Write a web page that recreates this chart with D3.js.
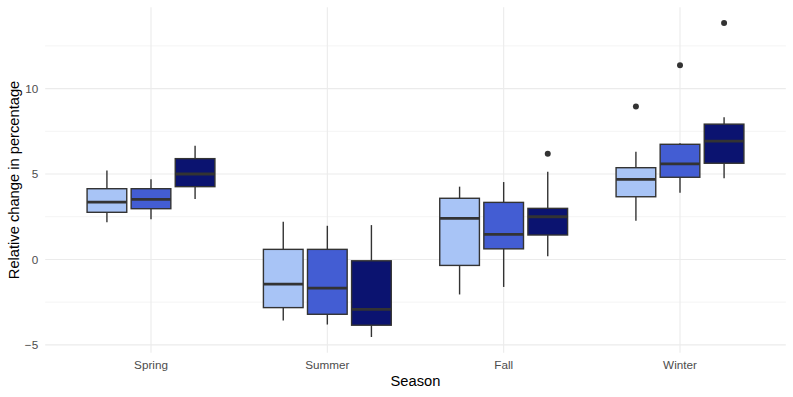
<!DOCTYPE html>
<html>
<head>
  <meta charset="utf-8">
  <style>
    body { margin: 0; background: #fff; }
    text { font-family: "Liberation Sans", Arial, sans-serif; }
  </style>
</head>
<body>
  <svg width="793" height="397"></svg>
  <script src="https://d3js.org/d3.v7.min.js"></script>
  <script>
  // data: box statistics per season [lower whisker, q1, median, q3, upper whisker]
  const seasons = ["Spring", "Summer", "Fall", "Winter"];
  const groups = ["g1", "g2", "g3"];
  const colors = ["#a8c4f6", "#435dd3", "#0b1370"];

  const statsG1 = [
    [2.17, 2.76, 3.36, 4.14, 5.20],
    [-3.58, -2.82, -1.45, 0.59, 2.21],
    [-2.05, -0.35, 2.40, 3.58, 4.26],
    [2.26, 3.67, 4.69, 5.37, 6.31]
  ];
  const statsG2 = [
    [2.35, 2.97, 3.52, 4.14, 4.69],
    [-3.81, -3.21, -1.68, 0.59, 1.97],
    [-1.61, 0.62, 1.47, 3.34, 4.53],
    [3.91, 4.81, 5.59, 6.74, 6.80]
  ];
  const statsG3 = [
    [3.54, 4.26, 5.00, 5.90, 6.66],
    [-4.54, -3.85, -2.92, -0.08, 2.01],
    [0.19, 1.43, 2.50, 2.99, 5.14],
    [4.75, 5.63, 6.92, 7.92, 8.33]
  ];
  // outliers: [season, group, value]
  const outliers = [
    ["Fall", "g3", 6.18],
    ["Winter", "g1", 8.95],
    ["Winter", "g2", 11.36],
    ["Winter", "g3", 13.84]
  ];
  const yTicks = [-5, 0, 5, 10];
  const yMinor = [-2.5, 2.5, 7.5, 12.5];

  const allStats = [statsG1, statsG2, statsG3];
  const boxes = [];
  allStats.forEach((st, gi) => {
    st.forEach((s, si) => {
      boxes.push({ season: seasons[si], group: groups[gi], gi: gi,
        lo: s[0], q1: s[1], med: s[2], q3: s[3], hi: s[4] });
    });
  });

  const svg = d3.select("svg");
  const width = 793, height = 397;
  const margin = { top: 7.3, right: 7.2, bottom: 44.3, left: 45.2 };
  const pw = width - margin.left - margin.right;
  const ph = height - margin.top - margin.bottom;

  // y extent with 5% expansion like ggplot
  const vals = boxes.flatMap(b => [b.lo, b.hi]).concat(outliers.map(o => o[2]));
  const ext = d3.extent(vals);
  const pad = (ext[1] - ext[0]) * 0.05;

  const x = d3.scaleBand().domain(seasons)
    .range([margin.left, margin.left + pw])
    .paddingInner(0).paddingOuter(0.1);
  const xSub = d3.scaleBand().domain(groups)
    .range([-x.bandwidth() * 0.375, x.bandwidth() * 0.375]);
  const y = d3.scaleLinear().domain([ext[0] - pad, ext[1] + pad])
    .range([margin.top + ph, margin.top]);

  const boxW = xSub.bandwidth() * 0.9;
  const cx = (s, g) => x(s) + x.bandwidth() / 2 + xSub(g) + xSub.bandwidth() / 2;

  // grid
  const grid = svg.append("g");
  grid.selectAll(".minor").data(yMinor).enter().append("line")
    .attr("x1", margin.left).attr("x2", margin.left + pw)
    .attr("y1", d => y(d)).attr("y2", d => y(d))
    .attr("stroke", "#ebebeb").attr("stroke-width", 0.6);
  grid.selectAll(".major").data(yTicks).enter().append("line")
    .attr("x1", margin.left).attr("x2", margin.left + pw)
    .attr("y1", d => y(d)).attr("y2", d => y(d))
    .attr("stroke", "#ebebeb").attr("stroke-width", 1.1);
  grid.selectAll(".vmajor").data(seasons).enter().append("line")
    .attr("x1", d => x(d) + x.bandwidth() / 2).attr("x2", d => x(d) + x.bandwidth() / 2)
    .attr("y1", margin.top).attr("y2", margin.top + ph)
    .attr("stroke", "#ebebeb").attr("stroke-width", 1.1);

  // boxes
  const g = svg.append("g").selectAll("g").data(boxes).enter().append("g");
  g.append("line")
    .attr("x1", d => cx(d.season, d.group)).attr("x2", d => cx(d.season, d.group))
    .attr("y1", d => y(d.q3)).attr("y2", d => y(d.hi))
    .attr("stroke", "#333333").attr("stroke-width", 1.4);
  g.append("line")
    .attr("x1", d => cx(d.season, d.group)).attr("x2", d => cx(d.season, d.group))
    .attr("y1", d => y(d.q1)).attr("y2", d => y(d.lo))
    .attr("stroke", "#333333").attr("stroke-width", 1.4);
  g.append("rect")
    .attr("x", d => cx(d.season, d.group) - boxW / 2)
    .attr("width", boxW)
    .attr("y", d => y(d.q3))
    .attr("height", d => y(d.q1) - y(d.q3))
    .attr("fill", d => colors[d.gi])
    .attr("stroke", "#333333").attr("stroke-width", 1.4);
  g.append("line")
    .attr("x1", d => cx(d.season, d.group) - boxW / 2)
    .attr("x2", d => cx(d.season, d.group) + boxW / 2)
    .attr("y1", d => y(d.med)).attr("y2", d => y(d.med))
    .attr("stroke", "#333333").attr("stroke-width", 2.8);

  svg.append("g").selectAll("circle").data(outliers).enter().append("circle")
    .attr("cx", d => cx(d[0], d[1])).attr("cy", d => y(d[2]))
    .attr("r", 3).attr("fill", "#333333");

  // axes
  const yAxis = d3.axisLeft(y).tickValues(yTicks).tickSize(0).tickPadding(7)
    .tickFormat(d => d < 0 ? "\u2212" + Math.abs(d) : d);
  svg.append("g").attr("transform", `translate(${margin.left},0)`).call(yAxis)
    .call(a => a.select(".domain").remove())
    .selectAll("text").attr("fill", "#4d4d4d").attr("font-size", "11.7px")
    .attr("font-family", "Liberation Sans, Arial, sans-serif");

  const xAxis = d3.axisBottom(x).tickSize(0).tickPadding(8);
  svg.append("g").attr("transform", `translate(0,${margin.top + ph})`).call(xAxis)
    .call(a => a.select(".domain").remove())
    .selectAll("text").attr("fill", "#4d4d4d").attr("font-size", "11.7px")
    .attr("font-family", "Liberation Sans, Arial, sans-serif");

  svg.append("text")
    .attr("x", margin.left + pw / 2).attr("y", 386)
    .attr("text-anchor", "middle").attr("font-size", "14.7px").attr("fill", "#000")
    .text("Season");
  svg.append("text")
    .attr("transform", `translate(19,${margin.top + ph / 2}) rotate(-90)`)
    .attr("text-anchor", "middle").attr("font-size", "14.7px").attr("fill", "#000")
    .text("Relative change in percentage");
  </script>
</body>
</html>
